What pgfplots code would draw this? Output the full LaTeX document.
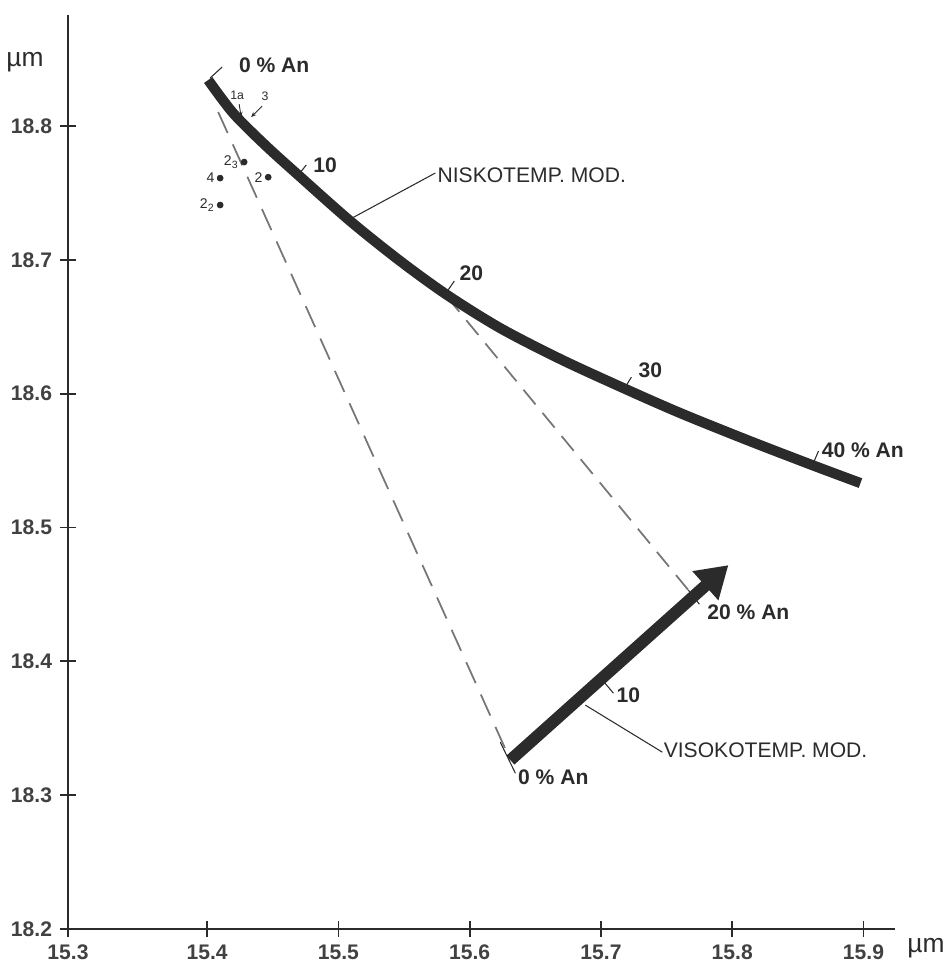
\documentclass[border=0pt]{standalone}
\usepackage{fontspec}
\setmainfont{Liberation Sans}
\usepackage{pgfplots}
\pgfplotsset{compat=1.18}
\usetikzlibrary{arrows.meta}
\definecolor{ink}{gray}{0.17}
\begin{document}
\begin{tikzpicture}
\useasboundingbox (-1.36,-0.72) rectangle (17.66,18.58);
\begin{axis}[
  scale only axis, width=16.54cm, height=18.28cm,
  xmin=15.294, xmax=15.924, ymin=18.2, ymax=18.883,
  axis lines=left, axis line style={-, line width=1.1pt, ink},
  xtick={15.294,15.4,15.5,15.6,15.7,15.8,15.9},
  xticklabels={15.3,15.4,15.5,15.6,15.7,15.8,15.9},
  ytick={18.2,18.3,18.4,18.5,18.6,18.7,18.8},
  yticklabels={18.2,18.3,18.4,18.5,18.6,18.7,18.8},
  tick align=center, major tick length=0.32cm,
  tick style={line width=1pt, ink},
  ticklabel style={font=\fontsize{12}{14}\selectfont\bfseries, text=ink!90},
  yticklabel style={xshift=-1pt},
  xticklabel style={yshift=-1pt},
  /pgf/number format/assume math mode=true,
  clip=false,
]
% dashed tie lines
\addplot[ink!65, line width=1pt, dash pattern=on 0.46cm off 0.25cm]
  coordinates {(15.4084,18.8105) (15.6310,18.3262)};
\addplot[ink!65, line width=1pt, dash pattern=on 0.38cm off 0.22cm]
  coordinates {(15.5829,18.6722) (15.7666,18.4532)};
% low-temperature curve
\addplot[ink, line width=5.8pt, smooth, line cap=butt] coordinates {
  (15.4008,18.8344) (15.4198,18.8097) (15.4442,18.7858) (15.4694,18.7634)
  (15.5090,18.7290) (15.5471,18.6991) (15.5829,18.6737) (15.6233,18.6490)
  (15.6690,18.6259) (15.7171,18.6042) (15.7605,18.5855) (15.8116,18.5653)
  (15.8611,18.5466) (15.8977,18.5332)};
% high-temperature arrow
\addplot[ink, line width=6.8pt, -{Triangle[length=0.62cm,width=0.74cm]}]
  coordinates {(15.6310,18.3262) (15.7971,18.4719)};
% measured points
\addplot[only marks, mark=*, mark size=1.7pt, ink,
  point meta=explicit symbolic, nodes near coords,
  nodes near coords style={anchor=east, font=\fontsize{8}{9}\selectfont,
    text=ink, inner sep=0.5pt, xshift=-2.5pt}]
  coordinates {
  (15.4282,18.7731) [2\textsubscript{3}]
  (15.4099,18.7611) [4]
  (15.4465,18.7618) [2]
  (15.4099,18.7410) [2\textsubscript{2}]};
% leader lines and labels
\begin{scope}[ink, line width=0.6pt]
\draw (axis cs:15.4023,18.8359) -- (axis cs:15.4114,18.8441);
\draw (axis cs:15.4694,18.7634) -- (axis cs:15.4755,18.7709);
\draw (axis cs:15.5090,18.7305) -- (axis cs:15.5738,18.7649);
\draw (axis cs:15.5814,18.6744) -- (axis cs:15.5883,18.6842);
\draw (axis cs:15.7171,18.6027) -- (axis cs:15.7232,18.6124);
\draw (axis cs:15.8611,18.5466) -- (axis cs:15.8657,18.5571);
\draw (axis cs:15.7666,18.4532) -- (axis cs:15.7750,18.4427);
\draw (axis cs:15.7018,18.3852) -- (axis cs:15.7095,18.3762);
\draw (axis cs:15.6881,18.3673) -- (axis cs:15.7468,18.3321);
\draw (axis cs:15.6233,18.3396) -- (axis cs:15.6348,18.3164);
\draw[line width=0.5pt, -{Stealth[length=3pt,width=2.5pt]}] (axis cs:15.4244,18.8164) -- (axis cs:15.4259,18.8067);
\draw[line width=0.5pt, -{Stealth[length=3pt,width=2.5pt]}] (axis cs:15.4419,18.8149) -- (axis cs:15.4335,18.8067);
\end{scope}
\begin{scope}[every node/.style={text=ink, font=\fontsize{12}{14}\selectfont\bfseries, inner sep=0pt}]
\node at (axis cs:15.4511,18.8456) {0 \% An};
\node at (axis cs:15.4899,18.7709) {10};
\node[anchor=west, font=\fontsize{12}{14}\selectfont] at (axis cs:15.5753,18.7634) {NISKOTEMP. MOD.};
\node at (axis cs:15.6012,18.6901) {20};
\node at (axis cs:15.7376,18.6176) {30};
\node[anchor=west] at (axis cs:15.8680,18.5578) {40 \% An};
\node at (axis cs:15.8123,18.4368) {20 \% An};
\node at (axis cs:15.7209,18.3747) {10};
\node[anchor=west, font=\fontsize{12}{14}\selectfont] at (axis cs:15.7476,18.3336) {VISOKOTEMP. MOD.};
\node at (axis cs:15.6637,18.3135) {0 \% An};
\node[font=\fontsize{7}{8}\selectfont] at (axis cs:15.4229,18.8232) {1a};
\node[font=\fontsize{7}{8}\selectfont] at (axis cs:15.4442,18.8224) {3};
\node[font=\fontsize{15}{17}\selectfont] at (axis description cs:-0.052,0.9486) {\textmu m};
\node[font=\fontsize{15}{17}\selectfont] at (axis description cs:1.0375,-0.0208) {\textmu m};
\end{scope}
\end{axis}
\end{tikzpicture}
\end{document}
